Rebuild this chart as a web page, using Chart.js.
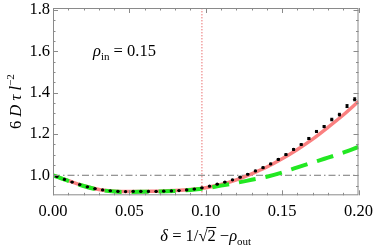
<!DOCTYPE html>
<html>
<head>
<meta charset="utf-8">
<script src="https://cdn.jsdelivr.net/npm/chart.js@4.4.1/dist/chart.umd.min.js"></script>
<style>
  html, body { margin: 0; padding: 0; background: #fff; }
</style>
</head>
<body>
<canvas id="chart" width="374" height="250"></canvas>
<script>
// Simulation points (x = delta) with small error bars
var ptX = [0.0025, 0.0075, 0.0125, 0.0175, 0.0225, 0.0275, 0.0325, 0.0375, 0.0425, 0.0475,
           0.0525, 0.0575, 0.0625, 0.0675, 0.0725, 0.0775, 0.0825, 0.0875, 0.0925, 0.0975,
           0.1025, 0.1075, 0.1125, 0.1175, 0.1225, 0.1275, 0.1325, 0.1375, 0.1425, 0.1475,
           0.1525, 0.1575, 0.1625, 0.1675, 0.1725, 0.1775, 0.1825, 0.1875, 0.1925, 0.1975];
var ptY = [0.994, 0.980, 0.967, 0.955, 0.944, 0.935, 0.929, 0.925, 0.922, 0.921,
           0.922, 0.922, 0.922, 0.922, 0.923, 0.924, 0.926, 0.929, 0.933, 0.939,
           0.947, 0.957, 0.967, 0.978, 0.991, 1.005, 1.021, 1.037, 1.055, 1.077,
           1.100, 1.125, 1.149, 1.178, 1.212, 1.236, 1.270, 1.294, 1.335, 1.368];
var ptErr = [0.001, 0.001, 0.001, 0.001, 0.001, 0.001, 0.001, 0.001, 0.001, 0.001,
             0.001, 0.001, 0.001, 0.001, 0.001, 0.001, 0.001, 0.001, 0.002, 0.002,
             0.002, 0.002, 0.002, 0.002, 0.003, 0.003, 0.003, 0.003, 0.003, 0.004,
             0.004, 0.004, 0.004, 0.005, 0.005, 0.005, 0.006, 0.006, 0.007, 0.007];

// Theory curves
var curveX = [0, 0.01, 0.02, 0.03, 0.04, 0.05, 0.06, 0.07, 0.08, 0.09, 0.10,
              0.11, 0.12, 0.13, 0.14, 0.15, 0.16, 0.17, 0.18, 0.19, 0.20];
var pinkY  = [1.000, 0.974, 0.949, 0.931, 0.923, 0.921, 0.922, 0.923, 0.926, 0.931, 0.940,
              0.955, 0.978, 1.007, 1.040, 1.080, 1.125, 1.175, 1.232, 1.292, 1.358];
var greenY = [1.000, 0.973, 0.948, 0.930, 0.921, 0.919, 0.920, 0.921, 0.924, 0.929, 0.937,
              0.950, 0.963, 0.978, 0.993, 1.013, 1.038, 1.062, 1.085, 1.110, 1.137];

// Reference lines
var refLevel = 1.0;
var refDelta = 0.0975;

var xTicks = [0, 0.05, 0.10, 0.15, 0.20];
var yTicks = [1.0, 1.2, 1.4, 1.6, 1.8];
var xMin = 0, xMax = 0.2, yMin = 0.903, yMax = 1.81;

var serif = '"Liberation Serif", "DejaVu Serif", serif';

function zip(xs, ys) {
  return xs.map(function (v, i) { return { x: v, y: ys[i] }; });
}

// draw a run of text pieces (italic / sub / sup / overline) centred or left aligned
function richText(ctx, parts, x, y, size, align) {
  var small = Math.round(size * 0.68);
  var widths = parts.map(function (p) {
    var s = (p.sub || p.sup) ? small : size;
    ctx.font = (p.i ? 'italic ' : '') + s + 'px ' + serif;
    return ctx.measureText(p.t).width;
  });
  var total = widths.reduce(function (a, b) { return a + b; }, 0);
  var cx = align === 'left' ? x : x - total / 2;
  parts.forEach(function (p, i) {
    var s = (p.sub || p.sup) ? small : size;
    ctx.font = (p.i ? 'italic ' : '') + s + 'px ' + serif;
    var dy = p.sub ? size * 0.25 : (p.sup ? -size * 0.42 : 0);
    ctx.fillText(p.t, cx, y + dy);
    if (p.over) {
      ctx.beginPath();
      ctx.lineWidth = 1;
      ctx.moveTo(cx - 1, y - size * 0.82);
      ctx.lineTo(cx + widths[i] + 0.5, y - size * 0.82);
      ctx.stroke();
    }
    cx += widths[i];
  });
}

var decorPlugin = {
  id: 'decor',
  afterDatasetsDraw: function (chart) {
    var ctx = chart.ctx, a = chart.chartArea;
    var xs = chart.scales.x, ys = chart.scales.y;
    ctx.save();
    // error bars
    ctx.strokeStyle = '#000';
    ctx.lineWidth = 1;
    ptX.forEach(function (v, i) {
      var px = xs.getPixelForValue(v);
      var top = ys.getPixelForValue(ptY[i] + ptErr[i]);
      var bot = ys.getPixelForValue(ptY[i] - ptErr[i]);
      ctx.beginPath();
      ctx.moveTo(px, top); ctx.lineTo(px, bot);
      ctx.moveTo(px - 1.5, top); ctx.lineTo(px + 1.5, top);
      ctx.moveTo(px - 1.5, bot); ctx.lineTo(px + 1.5, bot);
      ctx.stroke();
    });
    // frame
    ctx.strokeStyle = '#8a8a8a';
    ctx.lineWidth = 1;
    ctx.strokeRect(a.left + 0.5, a.top + 0.5, a.right - a.left - 1, a.bottom - a.top - 1);
    ctx.beginPath();
    for (var k = 0; k <= 20; k++) {
      var px = Math.round(xs.getPixelForValue(k / 100)) + 0.5;
      var len = k % 5 === 0 ? 5 : 2.5;
      ctx.moveTo(px, a.bottom); ctx.lineTo(px, a.bottom - len);
      ctx.moveTo(px, a.top); ctx.lineTo(px, a.top + len);
    }
    for (var j = 19; j <= 36; j++) {
      var py = Math.round(ys.getPixelForValue(j * 0.05)) + 0.5;
      var l2 = j % 4 === 0 ? 5 : 2.5;
      ctx.moveTo(a.left, py); ctx.lineTo(a.left + l2, py);
      ctx.moveTo(a.right, py); ctx.lineTo(a.right - l2, py);
    }
    ctx.stroke();
    ctx.restore();
  },
  afterDraw: function (chart) {
    var ctx = chart.ctx, a = chart.chartArea;
    ctx.save();
    ctx.fillStyle = '#000';
    ctx.strokeStyle = '#000';
    ctx.textBaseline = 'alphabetic';
    ctx.textAlign = 'left';
    // x axis title
    richText(ctx, [
      { t: 'δ', i: 1 }, { t: ' = 1/' }, { t: '√' }, { t: '2', over: 1 },
      { t: ' −' }, { t: 'ρ', i: 1 }, { t: 'out', sub: 1 }
    ], (a.left + a.right) / 2, 241, 16.5);
    // y axis title
    ctx.translate(21, (a.top + a.bottom) / 2);
    ctx.rotate(-Math.PI / 2);
    richText(ctx, [
      { t: '6 ' }, { t: 'D', i: 1 }, { t: ' ' }, { t: 'τ', i: 1 }, { t: ' ' },
      { t: 'l', i: 1 }, { t: '−2', sup: 1 }
    ], 0, 0, 16.5);
    ctx.setTransform(1, 0, 0, 1, 0, 0);
    // annotation
    richText(ctx, [
      { t: 'ρ', i: 1 }, { t: 'in', sub: 1 }, { t: ' = 0.15' }
    ], 93, 56, 16.5, 'left');
    ctx.restore();
  }
};

var tickFont = { family: serif, size: 16.5 };

new Chart(document.getElementById('chart'), {
  type: 'scatter',
  data: {
    datasets: [
      {
        data: zip(ptX, ptY),
        showLine: false,
        pointRadius: 1.6,
        pointBackgroundColor: '#000',
        pointBorderWidth: 0,
        order: 0
      },
      {
        data: zip(curveX, greenY),
        showLine: true,
        borderColor: 'rgb(34,232,34)',
        borderWidth: 4,
        borderDash: [17, 10],
        pointRadius: 0,
        cubicInterpolationMode: 'monotone',
        order: 1
      },
      {
        data: zip(curveX, pinkY),
        showLine: true,
        borderColor: 'rgb(250,128,128)',
        borderWidth: 3.5,
        pointRadius: 0,
        cubicInterpolationMode: 'monotone',
        order: 2
      },
      {
        data: [{ x: xMin, y: refLevel }, { x: xMax, y: refLevel }],
        showLine: true,
        borderColor: '#777',
        borderWidth: 1,
        borderDash: [7, 3, 1.5, 3],
        pointRadius: 0,
        order: 3
      },
      {
        data: [{ x: refDelta, y: yMin }, { x: refDelta, y: yMax }],
        showLine: true,
        borderColor: '#e03030',
        borderWidth: 1,
        borderDash: [1, 2],
        pointRadius: 0,
        order: 4
      }
    ]
  },
  options: {
    responsive: false,
    devicePixelRatio: 1,
    animation: false,
    layout: { padding: { top: 8, right: 15.5, left: 0, bottom: 0 } },
    plugins: { legend: { display: false }, tooltip: { enabled: false } },
    scales: {
      x: {
        type: 'linear',
        min: xMin,
        max: xMax,
        grid: { display: false, drawTicks: false },
        border: { display: false },
        ticks: {
          padding: 6,
          color: '#000',
          font: tickFont,
          maxRotation: 0,
          callback: function (v) { return Number(v).toFixed(2); }
        },
        afterBuildTicks: function (s) { s.ticks = xTicks.map(function (v) { return { value: v }; }); },
        afterFit: function (s) {
          s.height = 54.7;
          s.paddingLeft = 0; s.paddingRight = 0; s.paddingTop = 0; s.paddingBottom = 0;
        }
      },
      y: {
        type: 'linear',
        min: yMin,
        max: yMax,
        grid: { display: false, drawTicks: false },
        border: { display: false },
        ticks: {
          padding: 3,
          color: '#000',
          font: tickFont,
          callback: function (v) { return Number(v).toFixed(1); }
        },
        afterBuildTicks: function (s) { s.ticks = yTicks.map(function (v) { return { value: v }; }); },
        afterFit: function (s) {
          s.width = 53;
          s.paddingLeft = 0; s.paddingRight = 0; s.paddingTop = 0; s.paddingBottom = 0;
        }
      }
    }
  },
  plugins: [decorPlugin]
});
</script>
</body>
</html>
